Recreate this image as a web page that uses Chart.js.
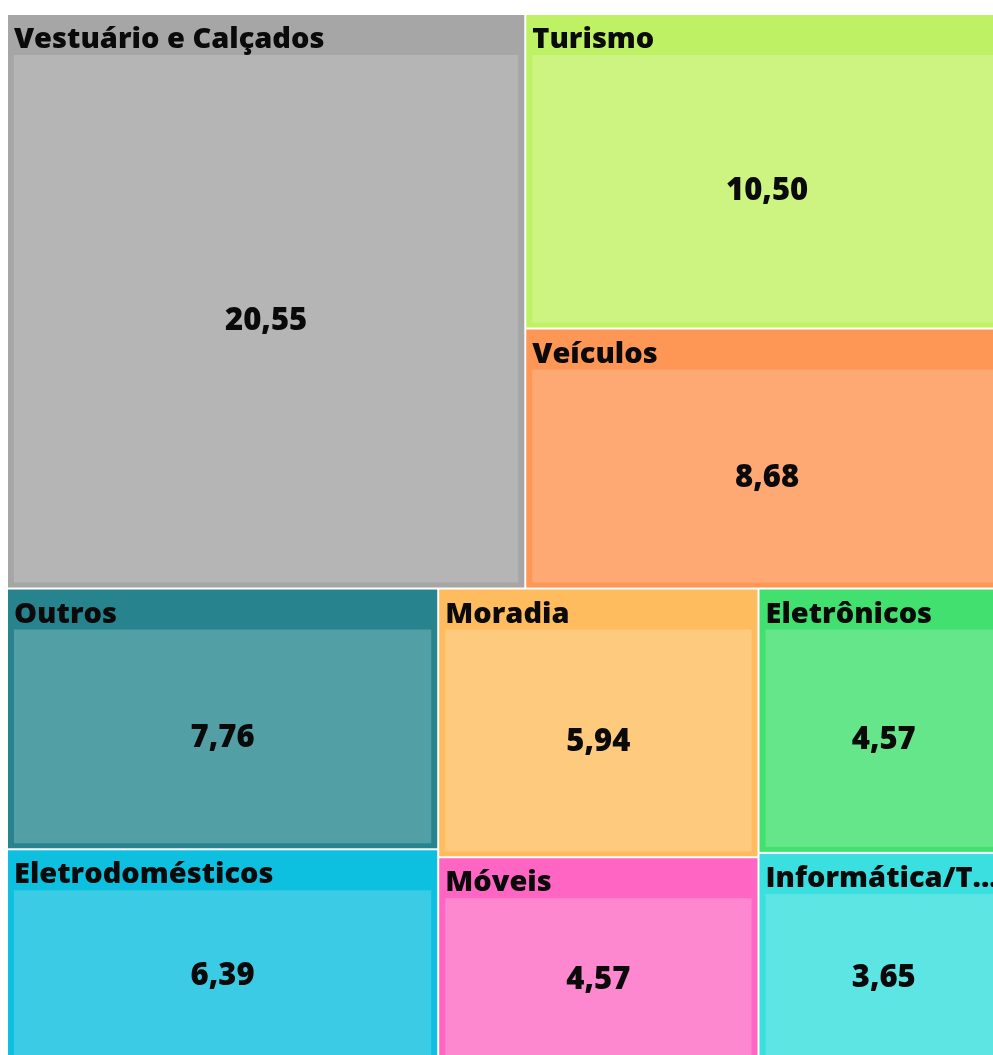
<!DOCTYPE html>
<html lang="pt-BR">
<head>
<meta charset="utf-8">
<title>Treemap</title>
<script src="https://cdn.jsdelivr.net/npm/chart.js@4.4.1/dist/chart.umd.min.js"></script>
<style>
    html, body { margin: 0; padding: 0; background: #fff; overflow: hidden; }
    #wrap { position: absolute; left: 0; top: 0; width: 1009px; height: 1064px; }
</style>
</head>
<body>
<div id="wrap"><canvas id="chart"></canvas></div>
<script>

const categories = [
    'Vestuário e Calçados', 'Turismo', 'Veículos', 'Outros', 'Eletrodomésticos',
    'Moradia', 'Móveis', 'Eletrônicos', 'Informática/Tecnologia'
];

const values = [ 20.55, 10.50, 8.68, 7.76, 6.39, 5.94, 4.57, 4.57, 3.65 ];

const headerColors = [
    '#a6a6a6', '#bef264', '#fe9656', '#27848f', '#0dc0e0',
    '#ffbc5e', '#ff66c4', '#41e06f', '#3adfe0'
];

const cellColors = [
    '#b5b5b5', '#cdf381', '#fea873', '#529fa6', '#3ccbe5',
    '#feca7e', '#fe88d0', '#66e68a', '#5ce5e3'
];

const sumOf = idx => idx.reduce( ( s, i ) => s + values[ i ], 0 );

/**
 * Binary treemap layout: splits the list where the running sum is closest to half,
 * cutting across the longer side of the rectangle.
 */
function partition ( idx, x0, y0, x1, y1, aspect, out ) {

    if ( idx.length === 1 ) { out[ idx[ 0 ] ] = { x0, y0, x1, y1 }; return; }

    const total = sumOf( idx );

    let acc = 0, k = 1, best = Infinity;

    for ( let i = 1; i < idx.length; ++i ) {

        acc += values[ idx[ i - 1 ] ];
        const d = Math.abs( acc - total / 2 );
        if ( d < best ) { best = d; k = i; }

    }

    const a = idx.slice( 0, k ), b = idx.slice( k );
    const f = sumOf( a ) / total;

    if ( ( x1 - x0 ) * aspect > ( y1 - y0 ) ) {
        const xm = x0 + ( x1 - x0 ) * f;
        partition( a, x0, y0, xm, y1, aspect, out );
        partition( b, xm, y0, x1, y1, aspect, out );
    } else {
        const ym = y0 + ( y1 - y0 ) * f;
        partition( a, x0, y0, x1, ym, aspect, out );
        partition( b, x0, ym, x1, y1, aspect, out );
    }

}

function fitText ( ctx, text, maxW ) {

    if ( ctx.measureText( text ).width <= maxW ) return text;

    let t = text;
    while ( t.length > 1 && ctx.measureText( t + '...' ).width > maxW ) t = t.slice( 0, -1 );

    return t + '...';

}

const treemapPlugin = {
    id: 'treemap',
    afterDraw ( chart ) {

        const { ctx, chartArea, scales: { x, y } } = chart;
        const aspect = ( chartArea.right - chartArea.left ) / ( chartArea.bottom - chartArea.top );

        const rects = [];
        partition( values.map( ( _, i ) => i ), 0, 0, 1, 1, aspect, rects );

        ctx.save();

        rects.forEach( ( r, i ) => {

            const gx0 = x.getPixelForValue( r.x0 ) + 1,
                  gx1 = x.getPixelForValue( r.x1 ) - 1,
                  gy0 = y.getPixelForValue( r.y0 ) + 1,
                  gy1 = y.getPixelForValue( r.y1 ) - 1;

            // group block with caption band
            ctx.fillStyle = headerColors[ i ];
            ctx.fillRect( gx0, gy0, gx1 - gx0, gy1 - gy0 );

            // inner cell
            const cx0 = gx0 + 6, cx1 = gx1 - 6, cy0 = gy0 + 40, cy1 = gy1 - 5;
            ctx.fillStyle = cellColors[ i ];
            ctx.fillRect( cx0, cy0, cx1 - cx0, cy1 - cy0 );

            ctx.fillStyle = '#0a0a0a';
            ctx.font = '800 29px "Open Sans", sans-serif';
            ctx.textAlign = 'left';
            ctx.textBaseline = 'alphabetic';
            ctx.fillText( fitText( ctx, categories[ i ], gx1 - gx0 - 8 ), gx0 + 6, gy0 + 33 );

            ctx.font = '800 31px "Open Sans", sans-serif';
            ctx.textAlign = 'center';
            ctx.textBaseline = 'middle';
            ctx.fillText(
                values[ i ].toLocaleString( 'pt-BR', { minimumFractionDigits: 2, maximumFractionDigits: 2 } ),
                ( cx0 + cx1 ) / 2, ( cy0 + cy1 ) / 2 + 2
            );

        } );

        ctx.restore();

    }
};

new Chart( document.getElementById( 'chart' ).getContext( '2d' ), {
    type: 'scatter',
    data: { datasets: [ { data: [], pointRadius: 0 } ] },
    options: {
        responsive: true,
        maintainAspectRatio: false,
        animation: false,
        layout: { padding: { left: 7, top: 14, right: 0, bottom: 0 } },
        plugins: { legend: { display: false }, tooltip: { enabled: false } },
        scales: {
            x: { type: 'linear', min: 0, max: 1, display: false },
            y: { type: 'linear', min: 0, max: 1, reverse: true, display: false }
        }
    },
    plugins: [ treemapPlugin ]
} );

</script>
</body>
</html>
